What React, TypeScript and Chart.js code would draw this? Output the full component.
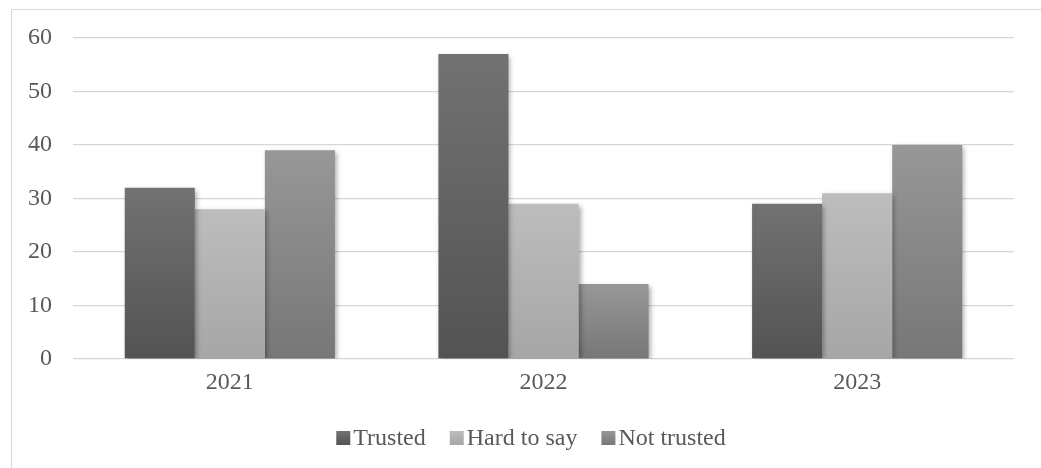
import React, { useEffect, useRef } from "react";
import { Chart, registerables } from "chart.js";

Chart.register(...registerables);

const categories = ["2021", "2022", "2023"];
const trusted = [32, 57, 29];
const hardToSay = [28, 29, 31];
const notTrusted = [39, 14, 40];
const yTicks = [0, 10, 20, 30, 40, 50, 60];

const FONT = "'Liberation Serif', 'Times New Roman', serif";
const TEXT = "#595959";
const FONT_SIZE = 24;

const gradStops: Record<string, [string, string]> = {
  Trusted: ["#727272", "#535353"],
  "Hard to say": ["#bdbdbd", "#a6a6a6"],
  "Not trusted": ["#979797", "#777777"],
};

function barGradient(label: string) {
  return (ctx: any) => {
    const chart = ctx.chart;
    const y = chart.scales?.y;
    const fallback = gradStops[label][1];
    if (!y || ctx.type !== "data" || typeof ctx.raw !== "number") return fallback;
    const top = y.getPixelForValue(ctx.raw);
    const bottom = y.getPixelForValue(0);
    if (!isFinite(top) || !isFinite(bottom) || top === bottom) return fallback;
    const g = chart.ctx.createLinearGradient(0, top, 0, bottom);
    g.addColorStop(0, gradStops[label][0]);
    g.addColorStop(1, gradStops[label][1]);
    return g;
  };
}

const shadowPlugin = {
  id: "barShadow",
  beforeDatasetsDraw(chart: any) {
    const c = chart.ctx;
    c.save();
    c.shadowColor = "rgba(0,0,0,0.35)";
    c.shadowBlur = 5;
    c.shadowOffsetX = 2;
    c.shadowOffsetY = 2;
  },
  afterDatasetsDraw(chart: any) {
    chart.ctx.restore();
  },
};

const legendPlugin = {
  id: "customLegend",
  afterDraw(chart: any) {
    const c = chart.ctx;
    c.save();
    c.font = `${FONT_SIZE}px ${FONT}`;
    const box = 14;
    const gapBoxText = 3;
    const gapItems = 24;
    const items = chart.data.datasets.map((d: any) => ({
      label: d.label,
      w: c.measureText(d.label).width,
    }));
    const total =
      items.reduce((s: number, it: any) => s + box + gapBoxText + it.w, 0) +
      gapItems * (items.length - 1);
    let x = 531 - total / 2;
    const cy = 438;
    items.forEach((it: any) => {
      const g = c.createLinearGradient(0, cy - box / 2, 0, cy + box / 2);
      g.addColorStop(0, gradStops[it.label][0]);
      g.addColorStop(1, gradStops[it.label][1]);
      c.fillStyle = g;
      c.fillRect(x, cy - box / 2, box, box);
      x += box + gapBoxText;
      c.fillStyle = TEXT;
      c.textBaseline = "middle";
      c.textAlign = "left";
      c.fillText(it.label, x, cy + 1);
      x += it.w + gapItems;
    });
    c.restore();
  },
};

export default function App() {
  const ref = useRef<HTMLCanvasElement | null>(null);
  useEffect(() => {
    let chart: any = null;
    let cancelled = false;
    const build = () => {
      if (cancelled || !ref.current) return;
      chart = new Chart(ref.current, {
        type: "bar",
        data: {
          labels: categories,
          datasets: [
            { label: "Trusted", data: trusted, backgroundColor: barGradient("Trusted") },
            { label: "Hard to say", data: hardToSay, backgroundColor: barGradient("Hard to say") },
            { label: "Not trusted", data: notTrusted, backgroundColor: barGradient("Not trusted") },
          ],
        },
        options: {
          animation: false,
          responsive: false,
          maintainAspectRatio: false,
          devicePixelRatio: 1,
          layout: { padding: { top: 38, right: 27, left: 0, bottom: 0 } },
          datasets: { bar: { categoryPercentage: 0.67, barPercentage: 1, borderWidth: 0 } },
          plugins: { legend: { display: false }, tooltip: { enabled: false } },
          scales: {
            x: {
              grid: { display: false, drawTicks: false },
              border: { display: false },
              ticks: { color: TEXT, font: { family: FONT, size: FONT_SIZE }, padding: 9 },
              afterFit(scale: any) {
                scale.height = 109;
              },
            },
            y: {
              min: 0,
              max: 60,
              afterBuildTicks(scale: any) {
                scale.ticks = yTicks.map((v) => ({ value: v }));
              },
              grid: { color: "#d6d6d6", lineWidth: 1.3, drawTicks: false },
              border: { display: false },
              ticks: { color: TEXT, font: { family: FONT, size: FONT_SIZE }, padding: 21 },
              afterFit(scale: any) {
                scale.width = 73;
              },
            },
          },
        },
        plugins: [shadowPlugin, legendPlugin],
      });
    };
    const fonts: any = (document as any).fonts;
    if (fonts && fonts.load) {
      fonts.load(`${FONT_SIZE}px 'Liberation Serif'`).then(build, build);
    } else {
      build();
    }
    return () => {
      cancelled = true;
      if (chart) chart.destroy();
    };
  }, []);

  return (
    <div
      style={{
        position: "fixed",
        left: 0,
        top: 0,
        width: 1041,
        height: 468,
        overflow: "hidden",
        background: "#fff",
      }}
    >
      <div
        style={{
          position: "absolute",
          left: 11,
          top: 9,
          width: 1100,
          height: 600,
          border: "1px solid #d9d9d9",
        }}
      />
      <canvas
        ref={ref}
        width={1041}
        height={468}
        style={{ position: "absolute", left: 0, top: 0, width: 1041, height: 468 }}
      />
    </div>
  );
}
